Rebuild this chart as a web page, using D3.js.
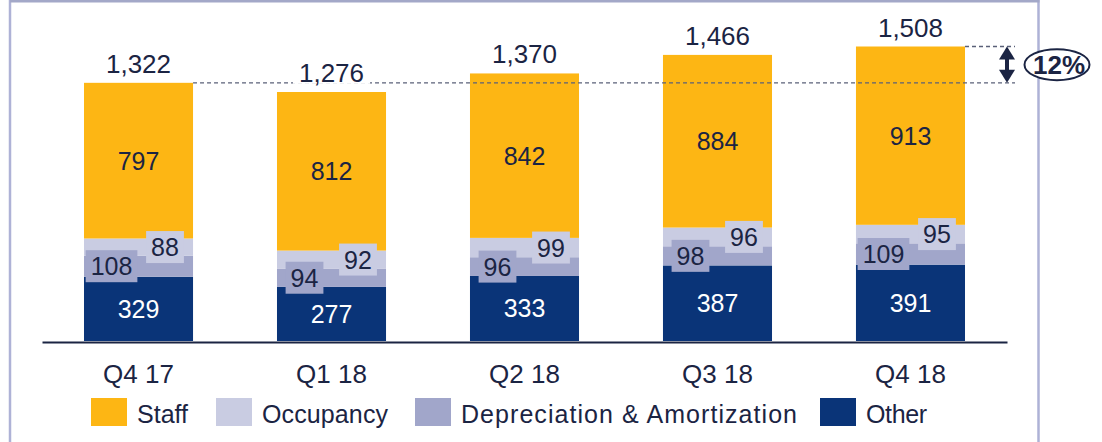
<!DOCTYPE html>
<html>
<head>
<meta charset="utf-8">
<script src="https://cdn.jsdelivr.net/npm/d3@7"></script>
<style>
  html, body { margin: 0; padding: 0; background: #fff; }
  svg { display: block; font-family: "Liberation Sans", Arial, sans-serif; }
</style>
</head>
<body>
<svg id="chart" width="1102" height="442"></svg>
<script>
// ---- data ----
const categories = ["Q4 17", "Q1 18", "Q2 18", "Q3 18", "Q4 18"];
const other      = [329, 277, 333, 387, 391];
const deprec     = [108, 94, 96, 98, 109];
const occupancy  = [88, 92, 99, 96, 95];
const staff      = [797, 812, 842, 884, 913];
const totals     = [1322, 1276, 1370, 1466, 1508];
const seriesNames = ["Staff", "Occupancy", "Depreciation & Amortization", "Other"];
const growthLabel = "12%";

// ---- styles ----
const colors = {
  "Other": "#0A3478",
  "Depreciation & Amortization": "#A1A6CA",
  "Occupancy": "#C9CCE2",
  "Staff": "#FDB614"
};
const textColor = "#1B2443";
const frameColor = "#AEB2D6";

const svg = d3.select("#chart");

// frame
svg.append("line").attr("x1", 10).attr("x2", 10).attr("y1", 0).attr("y2", 442)
  .attr("stroke", frameColor).attr("stroke-width", 2.5);
svg.append("line").attr("x1", 1038.5).attr("x2", 1038.5).attr("y1", 0).attr("y2", 442)
  .attr("stroke", frameColor).attr("stroke-width", 2.5);
svg.append("line").attr("x1", 10).attr("x2", 1039.5).attr("y1", 1).attr("y2", 1)
  .attr("stroke", "#A3A8C8").attr("stroke-width", 3);

// scales
const x = d3.scaleBand().domain(categories).range([42, 1007])
  .paddingInner(0.435).paddingOuter(0.2176);
const y = d3.scaleLinear().domain([0, 1508]).range([341, 46.5]);

// stacked data
const rows = categories.map((c, i) => ({
  cat: c,
  "Other": other[i],
  "Depreciation & Amortization": deprec[i],
  "Occupancy": occupancy[i],
  "Staff": staff[i],
  total: totals[i]
}));
const stackKeys = ["Other", "Depreciation & Amortization", "Occupancy", "Staff"];
const stacked = d3.stack().keys(stackKeys)(rows);

const g = svg.append("g");
g.selectAll("g.layer").data(stacked).join("g")
  .attr("class", "layer")
  .attr("fill", d => colors[d.key])
  .selectAll("rect").data(d => d).join("rect")
  .attr("x", d => x(d.data.cat))
  .attr("width", x.bandwidth())
  .attr("y", d => y(d[1]))
  .attr("height", d => y(d[0]) - y(d[1]));

const fs = 25;

// centered labels (Other: white, Staff: dark)
function centerLabel(layer, key, fill) {
  layer.forEach(d => {
    g.append("text")
      .attr("x", x(d.data.cat) + x.bandwidth() / 2)
      .attr("y", (y(d[0]) + y(d[1])) / 2 + 9)
      .attr("text-anchor", "middle")
      .attr("font-size", fs)
      .attr("fill", fill)
      .text(d.data[key]);
  });
}
centerLabel(stacked[0], "Other", "#fff");
centerLabel(stacked[3], "Staff", textColor);

// boxed labels for depreciation (left) and occupancy (right)
function boxedLabel(layer, key, dx) {
  layer.forEach(d => {
    const cx = x(d.data.cat) + x.bandwidth() / 2 + dx;
    const cy = (y(d[0]) + y(d[1])) / 2;
    const grp = g.append("g");
    const rect = grp.append("rect").attr("fill", colors[key]);
    const t = grp.append("text")
      .attr("x", cx).attr("y", cy + 9)
      .attr("text-anchor", "middle")
      .attr("font-size", fs)
      .attr("fill", textColor)
      .text(d.data[key]);
    const w = t.node().getComputedTextLength();
    rect.attr("x", cx - w / 2 - 5).attr("width", w + 10)
      .attr("y", cy - 16).attr("height", 32);
  });
}
boxedLabel(stacked[1], "Depreciation & Amortization", -27);
boxedLabel(stacked[2], "Occupancy", 26.5);

// dashed reference lines
const first = rows[0], last = rows[rows.length - 1];
const dashEnd = 1015;
svg.append("line")
  .attr("x1", x(first.cat) + x.bandwidth()).attr("x2", dashEnd)
  .attr("y1", y(first.total)).attr("y2", y(first.total))
  .attr("stroke", "#5A6078").attr("stroke-width", 1.3).attr("stroke-dasharray", "4,3");
svg.append("line")
  .attr("x1", x(last.cat) + x.bandwidth()).attr("x2", dashEnd)
  .attr("y1", y(last.total)).attr("y2", y(last.total))
  .attr("stroke", "#5A6078").attr("stroke-width", 1.3).attr("stroke-dasharray", "4,3");

// total labels with white background
rows.forEach(r => {
  const cx = x(r.cat) + x.bandwidth() / 2;
  const by = y(r.total) - 10;
  const grp = svg.append("g");
  const rect = grp.append("rect").attr("fill", "#fff");
  const t = grp.append("text")
    .attr("x", cx).attr("y", by)
    .attr("text-anchor", "middle")
    .attr("font-size", 26)
    .attr("fill", textColor)
    .text(d3.format(",")(r.total));
  const w = t.node().getComputedTextLength();
  rect.attr("x", cx - w / 2 - 6).attr("width", w + 12)
    .attr("y", by - 20).attr("height", 22);
});

// double arrow
const ax = 1007, yTop = y(last.total), yBot = y(first.total);
svg.append("line").attr("x1", ax).attr("x2", ax).attr("y1", yTop + 6).attr("y2", yBot - 6)
  .attr("stroke", textColor).attr("stroke-width", 4);
svg.append("path")
  .attr("d", `M${ax},${yTop} L${ax + 8},${yTop + 13} L${ax - 8},${yTop + 13} Z`)
  .attr("fill", textColor);
svg.append("path")
  .attr("d", `M${ax},${yBot} L${ax + 8},${yBot - 13} L${ax - 8},${yBot - 13} Z`)
  .attr("fill", textColor);

// growth ellipse
const ecy = (yTop + yBot) / 2;
svg.append("ellipse").attr("cx", 1057).attr("cy", ecy).attr("rx", 32.5).attr("ry", 15.5)
  .attr("fill", "#fff").attr("stroke", textColor).attr("stroke-width", 2);
svg.append("text").attr("x", 1059).attr("y", ecy + 9.5)
  .attr("text-anchor", "middle").attr("font-size", 26).attr("font-weight", "bold")
  .attr("fill", textColor).text(growthLabel);

// x axis
const axis = svg.append("g").attr("transform", "translate(0,342)")
  .call(d3.axisBottom(x).tickSize(0).tickPadding(22.5));
axis.select(".domain").attr("stroke", textColor).attr("stroke-width", 2);
axis.selectAll("text").attr("font-size", 26).attr("fill", textColor)
  .attr("font-family", "'Liberation Sans', Arial, sans-serif");

// legend
const legendX = [91, 216, 415, 820];
const legendTextW = [51, 126, 336, 61];
const leg = svg.append("g");
seriesNames.forEach((name, i) => {
  leg.append("rect").attr("x", legendX[i]).attr("y", 398).attr("width", 36).attr("height", 28)
    .attr("fill", colors[name]);
  leg.append("text").attr("x", legendX[i] + 46).attr("y", 423)
    .attr("font-size", 25).attr("fill", textColor)
    .attr("textLength", legendTextW[i]).attr("lengthAdjust", "spacing")
    .text(name);
});
</script>
</body>
</html>
